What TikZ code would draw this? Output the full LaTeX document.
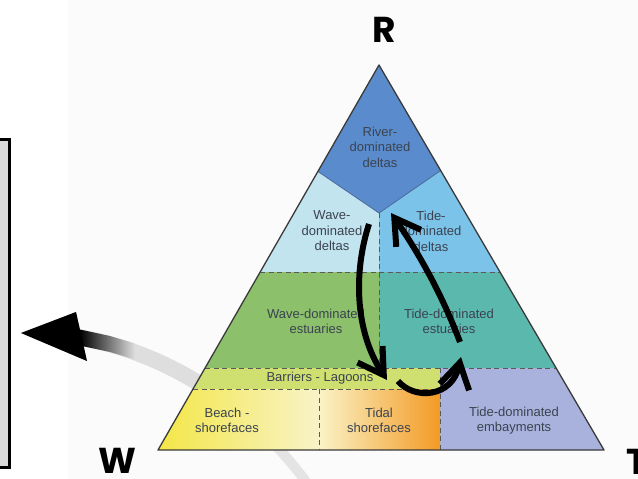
\documentclass[tikz,border=0pt]{standalone}
\usepackage{fontspec}
\setmainfont{Liberation Sans}
\newfontfamily\labfont{Poppins}
\usetikzlibrary{arrows.meta}
\definecolor{riverc}{HTML}{5A8CCD}
\definecolor{wdeltac}{HTML}{C2E4EE}
\definecolor{tdeltac}{HTML}{7CC3EA}
\definecolor{westc}{HTML}{8CC06B}
\definecolor{testc}{HTML}{5BB8AD}
\definecolor{barrc}{HTML}{CFE070}
\definecolor{beachL}{HTML}{F3E640}
\definecolor{beachR}{HTML}{F8F3C8}
\definecolor{tidalL}{HTML}{FAF3C6}
\definecolor{tidalM}{HTML}{F9DE98}
\definecolor{tidalR}{HTML}{F39A25}
\definecolor{embc}{HTML}{A9B2DC}
\definecolor{txtc}{HTML}{3B4350}
\definecolor{edgec}{HTML}{3A3A3A}
\definecolor{dashc}{HTML}{5A5A5A}
\definecolor{arcc}{HTML}{DEDEDE}
\definecolor{arcl}{HTML}{E4E4E4}
\definecolor{boxc}{HTML}{D9D9D9}
\definecolor{bgc}{HTML}{FBFBFB}
\definecolor{vlinec}{HTML}{4A6A9A}
\begin{document}
\begin{tikzpicture}[x=1pt,y=-1pt,
  region/.style={draw=none},
  divline/.style={draw=dashc,line width=0.9pt,dash pattern=on 5pt off 3.5pt},
  lbl/.style={font=\fontsize{13}{15.5}\selectfont,text=txtc,align=center,inner sep=0pt},
  corner/.style={font=\labfont\bfseries\fontsize{36}{36}\selectfont,text=black,anchor=base,inner sep=0pt},
  flow/.style={line width=6pt,draw=black,-{Straight Barb[length=25pt,width=30pt]}}
]
\useasboundingbox (0,0) rectangle (638,479);
% faint background panel
\fill[bgc] (68,0) rectangle (638,479);
% left box
\draw[fill=boxc,line width=3pt] (-10,139.5) rectangle (9.5,467.5);
% grey curved arrow (behind the triangle), tapering toward its start
\coordinate (gs) at (312,490);
\coordinate (gm) at (208.75,389.6);
\coordinate (ge) at (80,337.6);
\draw[arcl,line width=10pt] (gs) .. controls (284,450) and (248.5,415.75) .. (gm);
\draw[arcc,line width=16pt] (gm) .. controls (169,363.4) and (125,345.3) .. (ge);
\shade[left color=black,right color=arcc]
  (80,329.5) -- (110,336) -- (135,343.5) -- (135,359.5) -- (110,352) -- (80,345.6) -- cycle;
% arrowhead with soft shadow
\coordinate (tip) at (21,333);
\coordinate (hu) at (76,312);
\coordinate (hl) at (87,361);
\foreach \d/\o in {5/0.07,3.5/0.08,2/0.1}{
  \fill[black,opacity=\o,shift={(\d,\d)}] (tip) -- (hu) -- (hl) -- cycle;
}
\fill[black] (tip) -- (hu) -- (hl) -- cycle;
% triangle
\coordinate (A) at (379,65);
\coordinate (BL) at (158,450);
\coordinate (BR) at (604,450);
\begin{scope}
\clip (A) -- (BL) -- (BR) -- cycle;
\fill[wdeltac] (150,50) rectangle (379,272);
\fill[tdeltac] (379,50) rectangle (610,272);
\coordinate (V) at (379,213);
\coordinate (VL) at (318,171.5);
\coordinate (VR) at (440.7,170.5);
\fill[riverc] (257,130) -- (V) -- (502.4,128) -- (379,0) -- cycle;
\fill[westc] (150,272) rectangle (379,368);
\fill[testc] (379,272) rectangle (610,368);
\fill[barrc] (150,368) rectangle (440,389);
\fill[embc] (440,368) rectangle (610,455);
\shade[left color=beachL,right color=beachR] (150,389) rectangle (319,455);
\shade[left color=tidalL,middle color=tidalM,right color=tidalR] (319,389) rectangle (440,455);
\end{scope}
% dividing lines
\draw[vlinec,line width=0.8pt] (VL) -- (V) -- (VR);
\draw[divline] (260.2,272) -- (500,272);
\draw[divline] (205.1,368) -- (556.1,368);
\draw[divline] (193,389) -- (440,389);
\draw[divline] (V) -- (379,368);
\draw[divline] (319,389) -- (319,450);
\draw[divline] (440,368) -- (440,450);
\draw[edgec,line width=1.3pt,line join=round] (A) -- (BL) -- (BR) -- cycle;
% labels
\node[lbl] (river) at (380,147) {River-\\dominated\\deltas};
\node[lbl] (wdelta) at (332,231) {Wave-\\dominated\\deltas};
\node[lbl] (tdelta) at (431,231) {Tide-\\dominated\\deltas};
\node[lbl] (west) at (316,321.5) {Wave-dominated\\estuaries};
\node[lbl] (test) at (449,321.5) {Tide-dominated\\estuaries};
\node[lbl] (barr) at (320,378.5) {Barriers - Lagoons};
\node[lbl] (beach) at (227,420.5) {Beach -\\shorefaces};
\node[lbl] (tidal) at (379,420.5) {Tidal\\shorefaces};
\node[lbl] (emb) at (514,420.5) {Tide-dominated\\embayments};
% corner letters
\node[corner] (R) at (384,42) {R};
\node[corner] (W) at (117,473) {W};
\node[corner] (T) at (637,474) {T};
% black flow arrows
\coordinate (a1s) at (369,224);
\coordinate (a1e) at (387,380);
\coordinate (a2s) at (460,342);
\coordinate (a2e) at (391,213);
\coordinate (a3s) at (398,381);
\coordinate (a3e) at (461,357);
\draw[flow] (a1s) .. controls (354,270) and (354,330) .. (a1e);
\draw[flow] (a2s) .. controls (446,305) and (425,262) .. (a2e);
\draw[flow] (a3s) .. controls (414,400) and (452,398) .. (a3e);
\end{tikzpicture}
\end{document}
